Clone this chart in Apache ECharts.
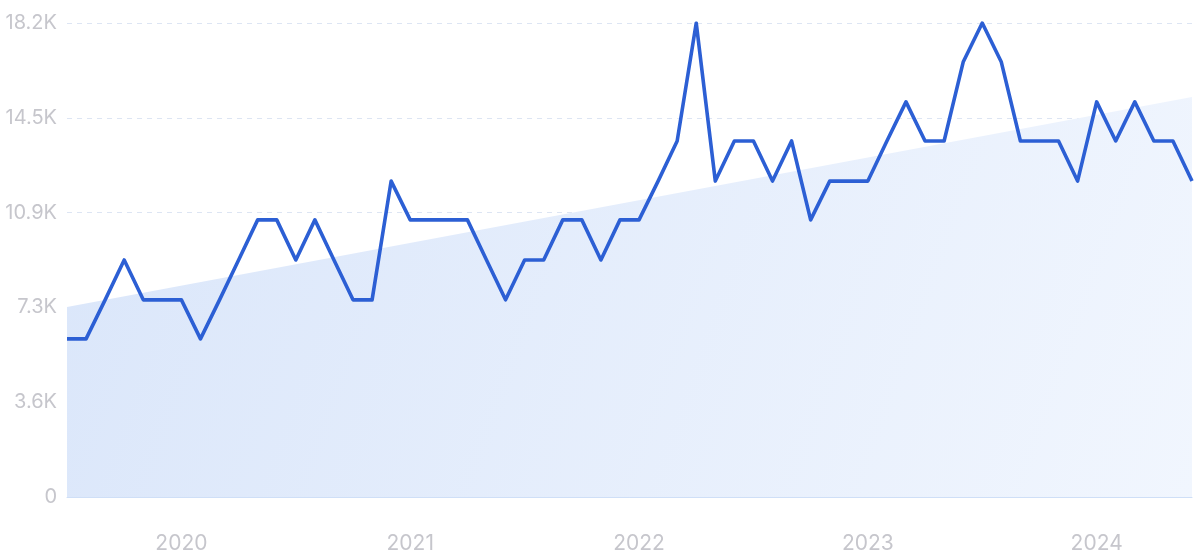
<!DOCTYPE html>
<html>
<head>
<meta charset="utf-8">
<script src="https://cdn.jsdelivr.net/npm/echarts@6/dist/echarts.min.js"></script>
<style>
html,body{margin:0;padding:0;background:#fff;}
#chart{width:1200px;height:559px;}
</style>
</head>
<body>
<div id="chart"></div>
<script>
const months = [
  '2019-07','2019-08','2019-09','2019-10','2019-11','2019-12',
  '2020-01','2020-02','2020-03','2020-04','2020-05','2020-06','2020-07','2020-08','2020-09','2020-10','2020-11','2020-12',
  '2021-01','2021-02','2021-03','2021-04','2021-05','2021-06','2021-07','2021-08','2021-09','2021-10','2021-11','2021-12',
  '2022-01','2022-02','2022-03','2022-04','2022-05','2022-06','2022-07','2022-08','2022-09','2022-10','2022-11','2022-12',
  '2023-01','2023-02','2023-03','2023-04','2023-05','2023-06','2023-07','2023-08','2023-09','2023-10','2023-11','2023-12',
  '2024-01','2024-02','2024-03','2024-04','2024-05','2024-06'
];
const traffic = [
  6070, 6070, 7570, 9100, 7570, 7570,
  7570, 6070, 7570, 9100, 10640, 10640, 9100, 10640, 9100, 7570, 7570, 12130,
  10640, 10640, 10640, 10640, 9100, 7570, 9100, 9100, 10640, 10640, 9100, 10640,
  10640, 12130, 13670, 18200, 12130, 13670, 13670, 12130, 13670, 10640, 12130, 12130,
  12130, 13670, 15170, 13670, 13670, 16700, 18200, 16700, 13670, 13670, 13670, 12130,
  15170, 13670, 15170, 13670, 13670, 12130
];
const trendEnds = [7300, 15360];
const yTickLabels = ['0', '3.6K', '7.3K', '10.9K', '14.5K', '18.2K'];
const yMax = 18200;
const yInterval = 3640;

const chart = echarts.init(document.getElementById('chart'), null, {renderer: 'canvas'});
const labelColor = '#c6c6cc';
chart.setOption({
  animation: false,
  grid: {left: 67, right: 8, top: 23, bottom: 62, containLabel: false},
  xAxis: {
    type: 'category',
    data: months,
    boundaryGap: false,
    axisLine: {show: true, lineStyle: {color: '#cfdff7', width: 1}},
    axisTick: {show: false},
    splitLine: {show: false},
    axisLabel: {
      color: labelColor,
      fontFamily: 'Inter',
      fontSize: 21,
      margin: 36,
      interval: function (idx, val) { return val.slice(5) === '01'; },
      formatter: function (val) { return val.slice(0, 4); }
    }
  },
  yAxis: {
    type: 'value',
    min: 0,
    max: yMax,
    interval: yInterval,
    axisLine: {show: false},
    axisTick: {show: false},
    splitLine: {show: true, lineStyle: {color: '#dde5f3', type: [5, 5], width: 1}},
    axisLabel: {
      color: labelColor,
      fontFamily: 'Inter',
      fontSize: 20,
      margin: 10,
      formatter: function (v) { return yTickLabels[Math.round(v / yInterval)]; }
    }
  },
  series: [
    {
      type: 'line',
      data: [[0, trendEnds[0]], [months.length - 1, trendEnds[1]]],
      symbol: 'none',
      lineStyle: {opacity: 0},
      areaStyle: {
        opacity: 1,
        color: new echarts.graphic.LinearGradient(0, 0, 1, 1, [
          {offset: 0, color: '#dae6fa'},
          {offset: 1, color: '#f1f6fe'}
        ])
      },
      z: 1,
      silent: true
    },
    {
      type: 'line',
      data: traffic,
      symbol: 'none',
      lineStyle: {color: '#2c5fd4', width: 3.6, join: 'round'},
      z: 3
    }
  ]
});
</script>
</body>
</html>
